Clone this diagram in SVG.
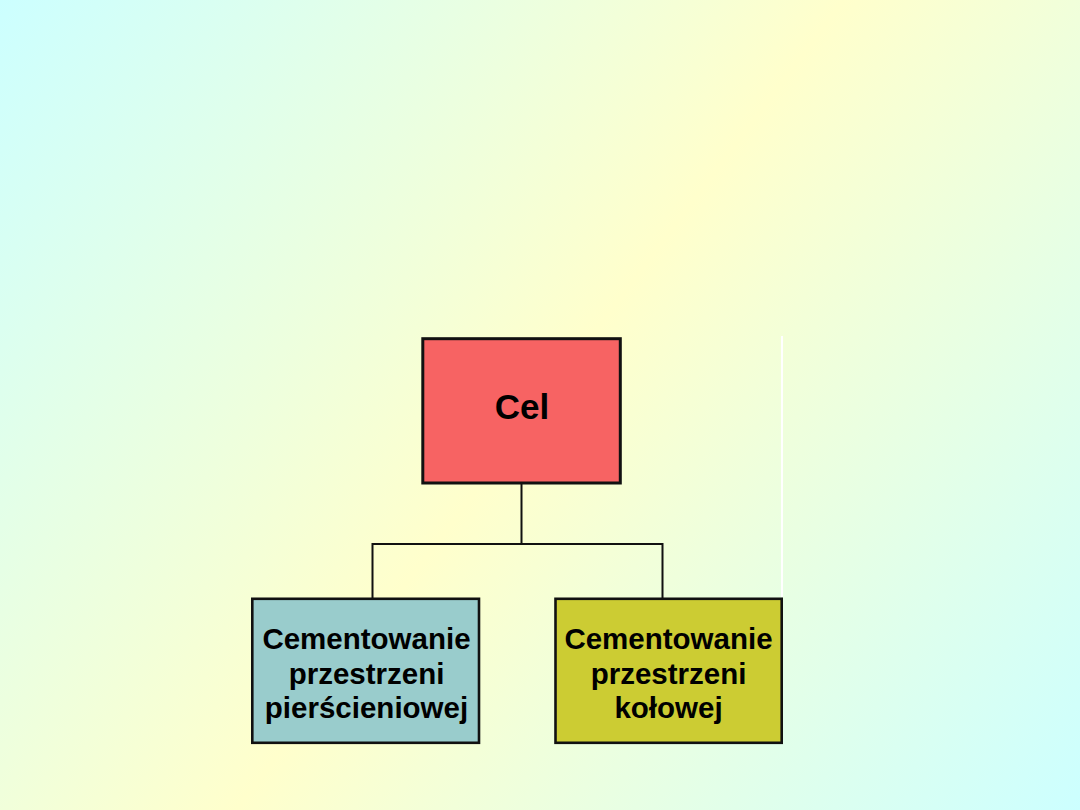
<svg xmlns="http://www.w3.org/2000/svg" width="1080" height="810" viewBox="0 0 1080 810">
  <defs>
    <linearGradient id="bg" gradientUnits="userSpaceOnUse" x1="0" y1="0" x2="1080" y2="810">
      <stop offset="0" stop-color="#ccffff"/>
      <stop offset="0.5" stop-color="#ffffcc"/>
      <stop offset="1" stop-color="#ccffff"/>
    </linearGradient>
  </defs>
  <style>
    .box { stroke: #111111; stroke-width: 2.6; }
    .lbl { font-family: "Liberation Sans", Arial, sans-serif; font-weight: bold; fill: #000000; text-anchor: middle; }
    .conn { stroke: #111111; stroke-width: 2; fill: none; }
  </style>
  <rect x="0" y="0" width="1080" height="810" fill="url(#bg)"/>
  <line x1="782" y1="336" x2="782" y2="597" stroke="#ffffff" stroke-width="2"/>
  <g id="connectors">
    <path class="conn" d="M521.5,484 V544"/>
    <path class="conn" d="M372.5,598 V544 H662.5 V598"/>
  </g>
  <g id="node-cel">
    <rect class="box" x="422.8" y="338.7" width="197.5" height="144.3" fill="#f76363" style="stroke-width:3"/>
    <text class="lbl" x="522" y="418.5" font-size="35">Cel</text>
  </g>
  <g id="node-pierscieniowej">
    <rect class="box" x="252.3" y="598.8" width="226.7" height="144" fill="#99cccc"/>
    <text class="lbl" x="366.5" font-size="29.5"><tspan x="366.5" y="649">Cementowanie</tspan><tspan x="366.5" y="683.5">przestrzeni</tspan><tspan x="366.5" y="718">pierścieniowej</tspan></text>
  </g>
  <g id="node-kolowej">
    <rect class="box" x="555.5" y="598.8" width="226.2" height="144" fill="#cccc33"/>
    <text class="lbl" x="668.5" font-size="29.5"><tspan x="668.5" y="649">Cementowanie</tspan><tspan x="668.5" y="683.5">przestrzeni</tspan><tspan x="668.5" y="718">kołowej</tspan></text>
  </g>
</svg>
